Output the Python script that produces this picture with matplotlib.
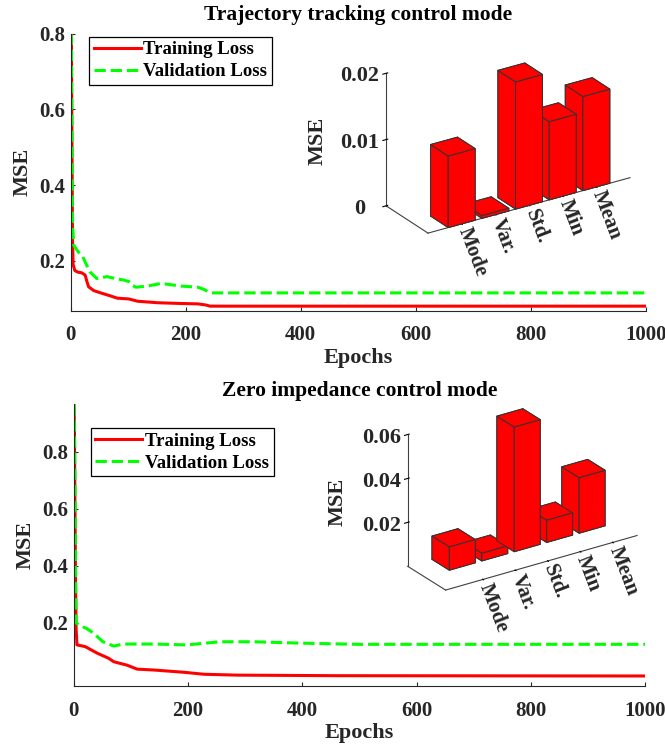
import matplotlib.pyplot as plt
import numpy as np

plt.rcParams['font.family'] = 'Liberation Serif'
plt.rcParams['font.weight'] = 'bold'
plt.rcParams['axes.titleweight'] = 'bold'
plt.rcParams['axes.labelweight'] = 'bold'

# ---- data ----
cats = ['Mode', 'Var.', 'Std.', 'Min', 'Mean']

# trajectory tracking control mode
ep_tr_a = [0, 1, 2, 3, 4, 7, 12, 19, 25, 28, 31, 40, 54, 69, 81, 101, 116, 151, 192, 221, 235, 242, 1000]
loss_tr_a = [0.80, 0.78, 0.50, 0.25, 0.19, 0.174, 0.170, 0.168, 0.162, 0.145, 0.131, 0.121, 0.114,
             0.107, 0.101, 0.099, 0.093, 0.089, 0.087, 0.086, 0.083, 0.080, 0.080]
ep_va_a = [0, 1, 2, 3, 5, 12, 21, 27, 33, 45, 63, 80, 92, 101, 107, 113, 133, 157, 192, 221, 232,
           239, 245, 1000]
loss_va_a = [0.80, 0.79, 0.55, 0.30, 0.241, 0.225, 0.21, 0.19, 0.171, 0.153, 0.158, 0.152, 0.149,
             0.145, 0.135, 0.130, 0.133, 0.140, 0.133, 0.130, 0.124, 0.118, 0.115, 0.115]
bars_a = [0.0108, 0.0004, 0.0192, 0.0118, 0.0142]
zticks_a = [0, 0.01, 0.02]
zlabels_a = ['0', '0.01', '0.02']

# zero impedance control mode
ep_tr_b = [0, 1, 2, 3, 4, 5.5, 20, 30, 41, 61, 70, 93, 111, 140, 193, 228, 286, 461, 1000]
loss_tr_b = [0.967, 0.90, 0.60, 0.35, 0.18, 0.122, 0.116, 0.105, 0.093, 0.075, 0.063, 0.051,
             0.037, 0.034, 0.026, 0.019, 0.016, 0.014, 0.013]
ep_va_b = [0, 1, 2, 3, 4, 10, 22, 34, 51, 70, 87, 140, 198, 256, 315, 400, 500, 1000]
loss_va_b = [0.967, 0.95, 0.70, 0.40, 0.20, 0.19, 0.18, 0.164, 0.133, 0.118, 0.125, 0.125, 0.122,
             0.133, 0.133, 0.128, 0.124, 0.124]
bars_b = [0.0106, 0.0035, 0.0568, 0.0101, 0.0253]
zticks_b = [0.02, 0.04, 0.06]
zlabels_b = ['0.02', '0.04', '0.06']

fig = plt.figure(figsize=(6.65, 7.51), dpi=100)


def loss_panel(rect, title, ep_t, l_t, ep_v, l_v, ylim, leg_xy, tpad):
    ax = fig.add_axes(rect)
    ax.plot(ep_t, l_t, color='red', lw=2.2, label='Training Loss')
    ax.plot(ep_v, l_v, color='#00ff00', lw=2.2, ls='--', label='Validation Loss')
    ax.set_xlim(0, 1000)
    ax.set_ylim(*ylim)
    ax.set_xticks(range(0, 1001, 200))
    ax.set_yticks([0.2, 0.4, 0.6, 0.8])
    ax.set_yticklabels(['0.2', '0.4', '0.6', '0.8'])
    for s in ['top', 'right']:
        ax.spines[s].set_visible(False)
    for s in ['left', 'bottom']:
        ax.spines[s].set_color('#262626')
    ax.tick_params(direction='in', length=3, labelsize=15, colors='#262626', labelcolor='#262626')
    ax.tick_params(axis='x', pad=10.5)
    ax.tick_params(axis='y', pad=4)
    ax.set_xlabel('Epochs', fontsize=16, color='#262626', labelpad=2)
    ax.set_ylabel('MSE', fontsize=16, color='#262626', labelpad=5)
    ax.set_title(title, fontsize=15.5, color='black', pad=tpad)
    leg = ax.legend(loc='upper left', bbox_to_anchor=leg_xy, borderaxespad=0, fontsize=13.5,
                    handlelength=2.5, handletextpad=0.15, borderpad=0.25, labelspacing=0.25,
                    fancybox=False, framealpha=1, edgecolor='black')
    leg.get_frame().set_linewidth(0.9)
    return ax


def bar_inset(rect, vals, zticks, zlabels, zlim, xlim, ylim, y0, azim, aspect):
    ax = fig.add_axes(rect, projection='3d', proj_type='ortho')
    ax.set_facecolor('none')
    xs = np.arange(1, len(vals) + 1)
    ax.bar3d(xs - 0.4, np.full(len(vals), y0), np.zeros(len(vals)), 0.8, 0.8, vals,
             color='red', edgecolor='#333333', linewidth=0.7, shade=False)
    ax.set_xlim(*xlim)
    ax.set_ylim(*ylim)
    ax.set_zlim(*zlim)
    ax.view_init(elev=25, azim=azim)
    ax.set_box_aspect(aspect)
    ax.grid(False)
    for a in (ax.xaxis, ax.yaxis, ax.zaxis):
        a.pane.fill = False
        a.pane.set_edgecolor((1, 1, 1, 0))
        a.line.set_color('#404040')
        a.line.set_linewidth(0.8)
    ax.set_xticks(xs)
    ax.set_xticklabels(cats, rotation=-69, ha='left', va='center', rotation_mode='anchor',
                       fontsize=15, color='#262626')
    ax.tick_params(axis='x', pad=-5)
    ax.set_yticks([])
    ax.set_zticks(zticks)
    ax.set_zticklabels(zlabels, fontsize=16, color='#262626', va='center')
    return ax


loss_panel([0.1065, 0.5863, 0.8645, 0.369], 'Trajectory tracking control mode',
           ep_tr_a, loss_tr_a, ep_va_a, loss_va_a, (0.068, 0.8), (0.0317, 0.989), 9.5)
loss_panel([0.111, 0.0866, 0.859, 0.3755], 'Zero impedance control mode',
           ep_tr_b, loss_tr_b, ep_va_b, loss_va_b, (-0.022, 0.967), (0.0296, 0.915), 6)

bar_inset([0.545, 0.639, 0.4265, 0.3776], bars_a, zticks_a, zlabels_a, (0, 0.02),
          (0, 6), (0, 1.9), 0.0, -123, (3.13, 1, 1.9))
bar_inset([0.5747, 0.1675, 0.4105, 0.3635], bars_b, zticks_b, zlabels_b, (0, 0.06),
          (-0.15, 5.75), (0, 1.75), 0.95, -124, (3.4, 1, 2.14))

fig.text(318 / 665, 1 - 141 / 751, 'MSE', rotation=90, ha='center', va='center',
         fontsize=16, color='#262626')
fig.text(338 / 665, 1 - 502 / 751, 'MSE', rotation=90, ha='center', va='center',
         fontsize=16, color='#262626')

fig.savefig('out.png', dpi=100, facecolor='white')
